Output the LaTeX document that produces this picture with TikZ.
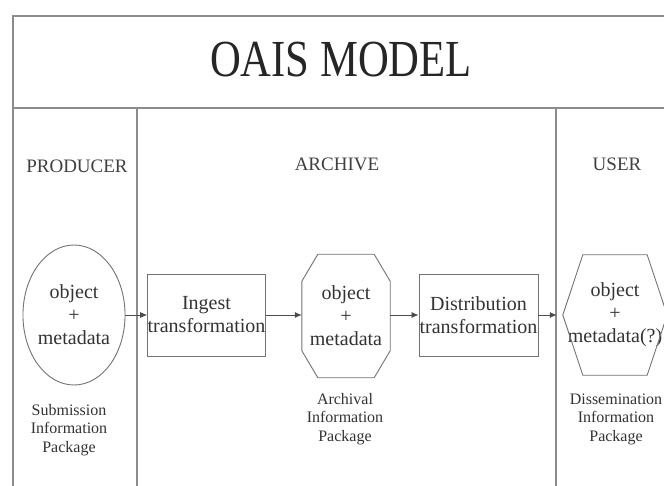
\documentclass[tikz,border=0pt]{standalone}
\usepackage{fontspec}
\setmainfont{Liberation Serif}
\usetikzlibrary{shapes.geometric,arrows.meta}
\begin{document}
\begin{tikzpicture}[x=1pt,y=-1pt,
  frame/.style={draw=black!45, line width=1.3pt},
  shapeline/.style={draw=black!55, line width=0.9pt},
  body/.style={font=\fontsize{20}{23}\selectfont, text=black!80, align=center, inner sep=0pt},
  capt/.style={font=\fontsize{16}{18.5}\selectfont, text=black!80, align=center},
  head/.style={font=\fontsize{19}{22}\selectfont, text=black!75},
  flow/.style={draw=black!70, line width=0.8pt, -{Latex[length=7pt,width=6pt]}}]
\useasboundingbox (0,0) rectangle (664,486);
\clip (0,0) rectangle (664,486);
\fill[white] (0,0) rectangle (664,486);
% frame
\draw[frame] (680,16) -- (13,16) -- (13,490);
\draw[frame] (13,108) -- (680,108);
\draw[frame] (137,108) -- (137,490);
\draw[frame] (556,108) -- (556,490);
% title and headers
\node[font=\fontsize{52}{52}\selectfont, text=black!85] (title) at (341,60) {\scalebox{0.82}[1]{OAIS MODEL}};
\node[head] (prod) at (77,166) {PRODUCER};
\node[head] (arch) at (337,164) {ARCHIVE};
\node[head] (user) at (617,164) {USER};
% shapes
\node[body, ellipse, shapeline, minimum width=99pt, minimum height=140pt] (sip) at (74,315) {object\\+\\metadata};
\node[body, rectangle, shapeline, minimum width=117pt, minimum height=82pt] (ing) at (206.5,315) {Ingest\\transformation};
\node[body, minimum width=88pt, minimum height=123pt] (aip) at (346,316) {object\\+\\metadata};
\draw[shapeline] ([xshift=16pt]aip.north west) -- ([xshift=-16pt]aip.north east) -- ([yshift=-27pt]aip.north east) -- ([yshift=27pt]aip.south east) -- ([xshift=-16pt]aip.south east) -- ([xshift=16pt]aip.south west) -- ([yshift=27pt]aip.south west) -- ([yshift=-27pt]aip.north west) -- cycle;
\node[body, rectangle, shapeline, minimum width=119pt, minimum height=82pt] (dis) at (478.5,315) {Distribution\\transformation};
\node[body, minimum width=104pt, minimum height=120pt] (dip) at (615,315) {object\\+\\metadata(?)};
\draw[shapeline] ([xshift=20pt]dip.north west) -- ([xshift=-20pt]dip.north east) -- (dip.east) -- ([xshift=-20pt]dip.south east) -- ([xshift=20pt]dip.south west) -- (dip.west) -- cycle;
% captions
\node[capt] (sipc) at (69,430) {Submission\\Information\\Package};
\node[capt] (aipc) at (345,419) {Archival\\Information\\Package};
\node[capt] (dipc) at (616,419) {Dissemination\\Information\\Package};
% connectors
\draw[flow] (sip.east) -- (ing.west);
\draw[flow] (ing.east) -- (aip.west |- ing.east);
\draw[flow] (aip.east |- dis.west) -- (dis.west);
\draw[flow, shorten >=6pt] (dis.east) -- (dip.west);
\end{tikzpicture}
\end{document}
